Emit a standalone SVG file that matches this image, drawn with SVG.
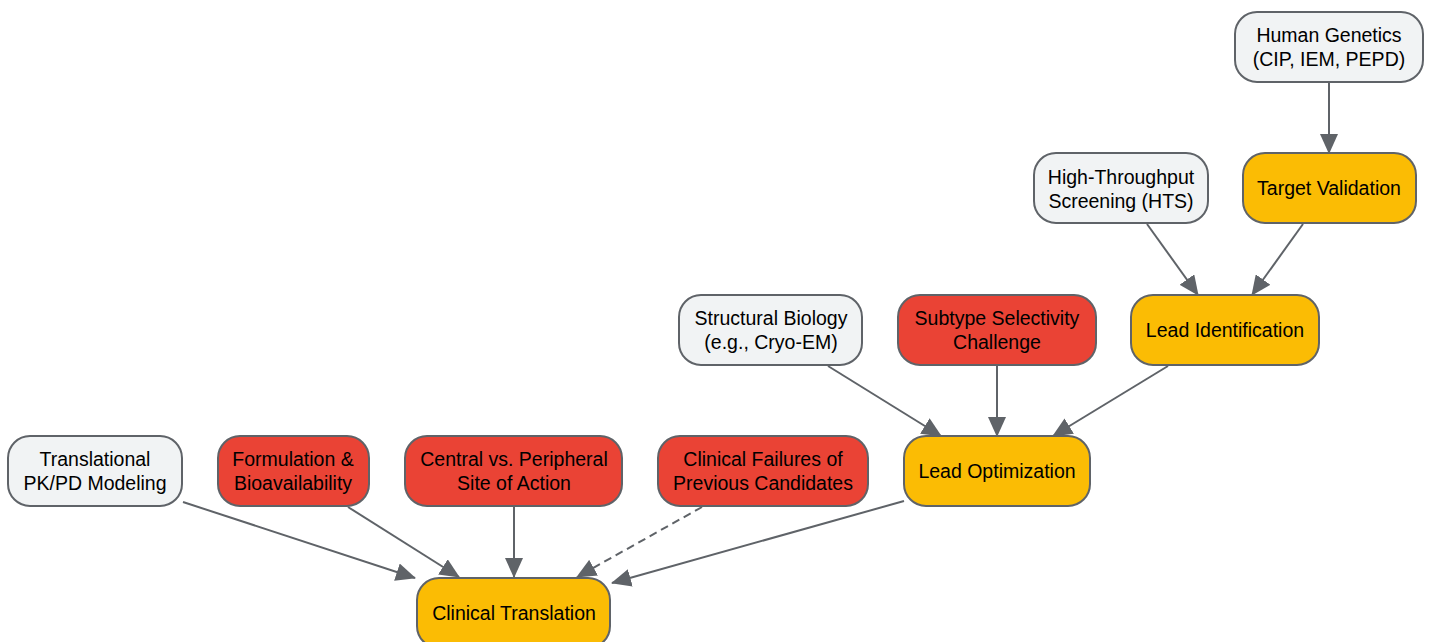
<svg xmlns="http://www.w3.org/2000/svg" width="1429" height="642" viewBox="0 0 1429 642">
<style>
.n rect{stroke:#5f6368;stroke-width:2}
.g rect{fill:#f1f3f4}
.y rect{fill:#fbbc04}
.r rect{fill:#ea4335}
text{font-family:"Liberation Sans",Arial,sans-serif;font-size:19.5px;fill:#000;text-anchor:middle}
.e line{stroke:#5f6368;stroke-width:2;fill:none;marker-end:url(#a)}
.d{stroke-dasharray:8,5}
</style>
<defs>
<marker id="a" markerUnits="userSpaceOnUse" markerWidth="20" markerHeight="18" refX="19" refY="9" orient="auto" viewBox="0 0 20 18">
<path d="M0,0 L20,9 L0,18 z" fill="#5f6368"/>
</marker>
</defs>
<rect width="1429" height="642" fill="#fff"/>
<g class="e">
<line x1="1329" y1="83" x2="1329" y2="153"/>
<line x1="1147" y1="224" x2="1198" y2="295"/>
<line x1="1303" y1="224" x2="1252" y2="295"/>
<line x1="828" y1="366" x2="941" y2="436"/>
<line x1="997" y1="366" x2="997" y2="436"/>
<line x1="1168" y1="366" x2="1053" y2="436"/>
<line x1="183" y1="502" x2="415" y2="578"/>
<line x1="348" y1="507" x2="459" y2="577"/>
<line x1="514" y1="507" x2="514" y2="577"/>
<line class="d" x1="702" y1="507" x2="577" y2="577"/>
<line x1="904" y1="501" x2="612" y2="583"/>
</g>
<g id="human-genetics" class="n g"><rect x="1235" y="12" width="188" height="70" rx="22"/><text x="1329" y="42">Human Genetics</text><text x="1329" y="66">(CIP, IEM, PEPD)</text></g>
<g id="target-validation" class="n y"><rect x="1243" y="153" width="173" height="70" rx="22"/><text x="1329" y="195">Target Validation</text></g>
<g id="hts" class="n g"><rect x="1034" y="153" width="174" height="70" rx="22"/><text x="1121" y="184">High-Throughput</text><text x="1121" y="208">Screening (HTS)</text></g>
<g id="lead-identification" class="n y"><rect x="1131" y="295" width="188" height="70" rx="22"/><text x="1225" y="337">Lead Identification</text></g>
<g id="structural-biology" class="n g"><rect x="679" y="295" width="183" height="70" rx="22"/><text x="771" y="325">Structural Biology</text><text x="771" y="349">(e.g., Cryo-EM)</text></g>
<g id="subtype-selectivity" class="n r"><rect x="898" y="295" width="198" height="70" rx="22"/><text x="997" y="325">Subtype Selectivity</text><text x="997" y="349">Challenge</text></g>
<g id="lead-optimization" class="n y"><rect x="904" y="436" width="186" height="70" rx="22"/><text x="997" y="478">Lead Optimization</text></g>
<g id="translational" class="n g"><rect x="8" y="436" width="174" height="70" rx="22"/><text x="95" y="466">Translational</text><text x="95" y="490">PK/PD Modeling</text></g>
<g id="formulation" class="n r"><rect x="218" y="436" width="151" height="70" rx="22"/><text x="293" y="466">Formulation &amp;</text><text x="293" y="490">Bioavailability</text></g>
<g id="central-peripheral" class="n r"><rect x="405" y="436" width="217" height="70" rx="22"/><text x="514" y="466">Central vs. Peripheral</text><text x="514" y="490">Site of Action</text></g>
<g id="clinical-failures" class="n r"><rect x="658" y="436" width="210" height="70" rx="22"/><text x="763" y="466">Clinical Failures of</text><text x="763" y="490">Previous Candidates</text></g>
<g id="clinical-translation" class="n y"><rect x="417" y="578" width="193" height="70" rx="22"/><text x="514" y="620">Clinical Translation</text></g>
</svg>
